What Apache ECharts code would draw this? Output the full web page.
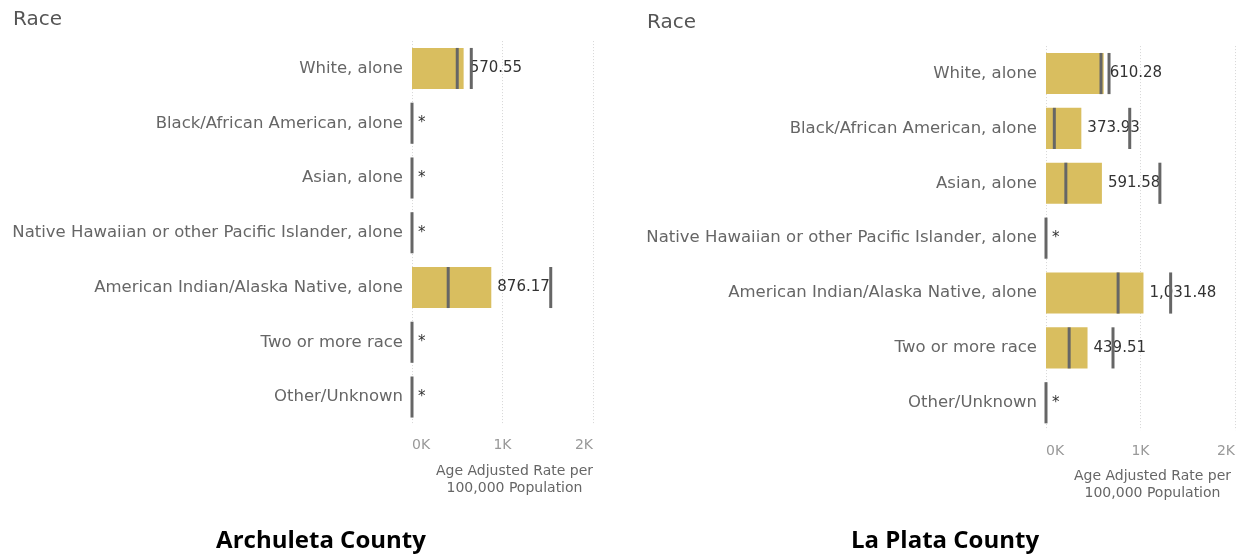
<!DOCTYPE html>
<html>
<head>
<meta charset="utf-8">
<script src="https://cdn.jsdelivr.net/npm/echarts@6/dist/echarts.min.js"></script>
<style>
  html, body { margin: 0; padding: 0; background: #fff; }
  #chart { width: 1251px; height: 560px; }
</style>
</head>
<body>
<div id="chart"></div>
<script>
// Age adjusted rate per 100,000 population, by race (null = suppressed, shown as "*")
const categories = [
  'White, alone',
  'Black/African American, alone',
  'Asian, alone',
  'Native Hawaiian or other Pacific Islander, alone',
  'American Indian/Alaska Native, alone',
  'Two or more race',
  'Other/Unknown'
];

const archuletaRate = [570.55, null, null, null, 876.17, null, null];
const archuletaLow  = [500, null, null, null, 400, null, null];
const archuletaHigh = [655, null, null, null, 1533, null, null];

const laPlataRate = [610.28, 373.93, 591.58, null, 1031.48, 439.51, null];
const laPlataLow  = [582, 88, 210, null, 763, 245, null];
const laPlataHigh = [667, 886, 1205, null, 1319, 709, null];

const axisTicks = [0, 1000, 2000];
const axisTickLabels = ['0K', '1K', '2K'];
const countyNames = ['Archuleta County', 'La Plata County'];

const BAR_COLOR = '#D9BE5F';
const CI_COLOR = '#666666';
const LABEL_FONT = '"DejaVu Sans", "Noto Sans", sans-serif';
const TITLE_FONT = '"Open Sans", "Noto Sans", sans-serif';

function fmt(v) {
  return v.toLocaleString('en-US', { minimumFractionDigits: 2, maximumFractionDigits: 2 });
}

function barSeries(idx, rates) {
  return {
    type: 'bar',
    xAxisIndex: idx,
    yAxisIndex: idx,
    barCategoryGap: '25%',
    z: 2,
    itemStyle: { color: BAR_COLOR },
    label: {
      show: true,
      position: 'right',
      distance: 6,
      fontFamily: LABEL_FONT,
      fontSize: 15,
      color: '#333',
      formatter: p => rates[p.dataIndex] == null ? '*' : fmt(rates[p.dataIndex])
    },
    data: rates.map(v => v == null ? 0 : v)
  };
}

// Confidence bounds drawn as short dark ticks; suppressed rows get a single tick at zero
function ciSeries(idx, lows, highs) {
  return {
    type: 'custom',
    xAxisIndex: idx,
    yAxisIndex: idx,
    z: 10,
    silent: true,
    encode: { y: 0, x: [1, 2] },
    data: lows.map((lo, i) => [i, lo == null ? 0 : lo, highs[i] == null ? 0 : highs[i]]),
    renderItem: function (params, api) {
      const i = api.value(0);
      const band = api.size([0, 1])[1];
      const h = band * 0.75;
      const values = lows[i] == null ? [0] : [api.value(1), api.value(2)];
      const children = values.map(v => {
        const pt = api.coord([v, i]);
        return {
          type: 'rect',
          shape: { x: pt[0] - 1.5, y: pt[1] - h / 2, width: 3, height: h },
          style: { fill: CI_COLOR }
        };
      });
      return { type: 'group', children: children };
    }
  };
}

function xAxisFor(idx) {
  return {
    type: 'value',
    gridIndex: idx,
    min: axisTicks[0],
    max: axisTicks[axisTicks.length - 1],
    interval: axisTicks[1] - axisTicks[0],
    axisLine: { show: false },
    axisTick: { show: false },
    splitLine: { show: true, lineStyle: { color: '#d6d6d6', type: [1, 2], width: 1 } },
    axisLabel: {
      margin: 14,
      fontFamily: LABEL_FONT,
      fontSize: 14,
      color: '#999',
      alignMinLabel: 'left',
      alignMaxLabel: 'right',
      formatter: v => axisTickLabels[axisTicks.indexOf(v)]
    },
    name: 'Age Adjusted Rate per\n100,000 Population',
    nameLocation: 'middle',
    nameGap: 38,
    nameTextStyle: {
      fontFamily: LABEL_FONT,
      fontSize: 14,
      lineHeight: 17,
      color: '#666',
      padding: [0, 0, 0, 24]
    }
  };
}

function yAxisFor(idx) {
  return {
    type: 'category',
    gridIndex: idx,
    inverse: true,
    data: categories,
    axisLine: { show: false },
    axisTick: { show: false },
    axisLabel: {
      margin: 9,
      fontFamily: LABEL_FONT,
      fontSize: 16.5,
      color: '#666'
    }
  };
}

const chart = echarts.init(document.getElementById('chart'), null, { renderer: 'canvas' });
chart.setOption({
  animation: false,
  backgroundColor: '#fff',
  title: [
    { text: 'Race', left: 8, top: 5, textStyle: { fontFamily: LABEL_FONT, fontSize: 20, fontWeight: 'normal', color: '#555' } },
    { text: 'Race', left: 642, top: 8, textStyle: { fontFamily: LABEL_FONT, fontSize: 20, fontWeight: 'normal', color: '#555' } },
    { text: countyNames[0], left: 316, textAlign: 'center', top: 524, textStyle: { fontFamily: TITLE_FONT, fontSize: 24, fontWeight: 'bold', color: '#000' } },
    { text: countyNames[1], left: 940, textAlign: 'center', top: 524, textStyle: { fontFamily: TITLE_FONT, fontSize: 24, fontWeight: 'bold', color: '#000' } }
  ],
  grid: [
    { left: 412, width: 181, top: 41.1, height: 383.3 },
    { left: 1046, width: 189, top: 46.1, height: 384.1 }
  ],
  xAxis: [xAxisFor(0), xAxisFor(1)],
  yAxis: [yAxisFor(0), yAxisFor(1)],
  series: [
    barSeries(0, archuletaRate),
    ciSeries(0, archuletaLow, archuletaHigh),
    barSeries(1, laPlataRate),
    ciSeries(1, laPlataLow, laPlataHigh)
  ]
});
</script>
</body>
</html>
